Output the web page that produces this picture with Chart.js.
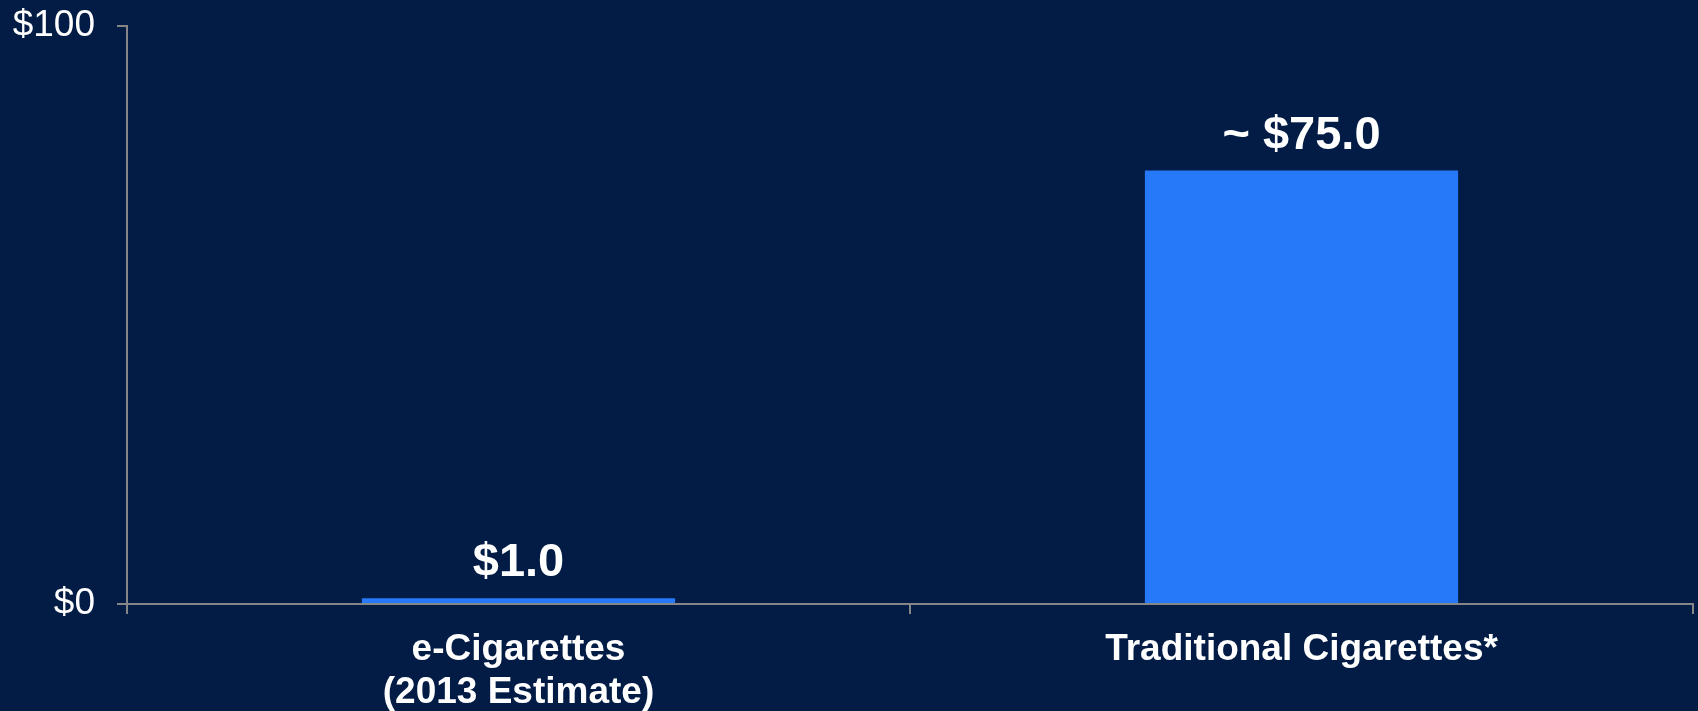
<!DOCTYPE html>
<html>
<head>
<meta charset="utf-8">
<script src="https://cdn.jsdelivr.net/npm/chart.js@4"></script>
<style>
  html, body { margin: 0; padding: 0; background: #021c46; }
  #wrap { width: 1698px; height: 711px; position: relative; }
</style>
</head>
<body>
<div id="wrap"><canvas id="c"></canvas></div>
<script>
// Market size comparison (US$ billions)
const categories = [['e-Cigarettes', '(2013 Estimate)'], ['Traditional Cigarettes*']];
const marketValues = [1.0, 75.0];
const valuePrefixes = ['', '~ '];
const yTickValues = [0, 100];

const FONT = "'Liberation Sans', Arial, sans-serif";
const AXIS_GRAY = '#868686';

// Writes the value above each bar
const valueLabels = {
  id: 'valueLabels',
  afterDatasetsDraw(chart) {
    const ctx = chart.ctx;
    const meta = chart.getDatasetMeta(0);
    ctx.save();
    ctx.fillStyle = '#ffffff';
    ctx.font = `bold 47px ${FONT}`;
    ctx.textAlign = 'center';
    ctx.textBaseline = 'alphabetic';
    meta.data.forEach((bar, i) => {
      const v = chart.data.datasets[0].data[i];
      ctx.fillText(valuePrefixes[i] + '$' + v.toFixed(1), bar.x, bar.y - 22);
    });
    ctx.restore();
  }
};

new Chart(document.getElementById('c'), {
  type: 'bar',
  data: {
    labels: categories,
    datasets: [{
      data: marketValues,
      backgroundColor: '#2679f9',
      borderWidth: 0,
      barPercentage: 0.4,
      categoryPercentage: 1.0
    }]
  },
  options: {
    responsive: true,
    maintainAspectRatio: false,
    animation: false,
    layout: { padding: { top: 26, right: 5, left: 0, bottom: 0 } },
    plugins: { legend: { display: false }, tooltip: { enabled: false } },
    scales: {
      x: {
        grid: { drawOnChartArea: false, drawTicks: true, tickLength: 10, color: AXIS_GRAY, lineWidth: 2, offset: true },
        border: { color: AXIS_GRAY, width: 2 },
        ticks: {
          color: '#ffffff',
          padding: 14,
          maxRotation: 0,
          font: { family: FONT, size: 37, weight: 'bold', lineHeight: 1.16 }
        },
        afterFit(scale) {
          scale.height = 107;
          scale.paddingLeft = 0;
          scale.paddingRight = 0;
        }
      },
      y: {
        min: 0,
        max: 100,
        grid: { drawOnChartArea: false, drawTicks: true, tickLength: 10, color: AXIS_GRAY, lineWidth: 2 },
        border: { color: AXIS_GRAY, width: 2 },
        afterBuildTicks(scale) { scale.ticks = yTickValues.map(v => ({ value: v })); },
        ticks: {
          color: '#ffffff',
          padding: 22,
          font: { family: FONT, size: 37 },
          callback: (v) => '$' + v
        },
        afterFit(scale) {
          scale.width = 127;
          scale.paddingTop = 0;
          scale.paddingBottom = 0;
        }
      }
    }
  },
  plugins: [valueLabels]
});
</script>
</body>
</html>
